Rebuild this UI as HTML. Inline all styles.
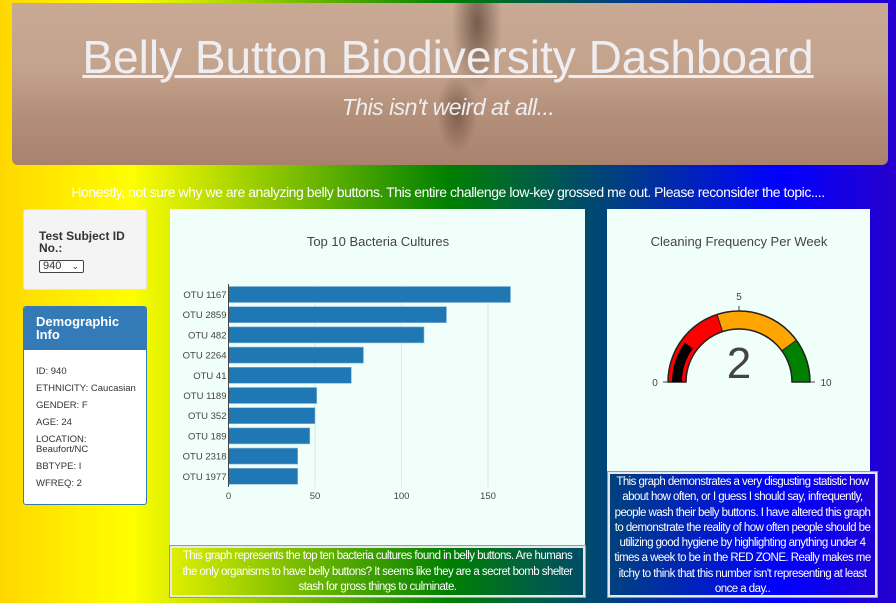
<!DOCTYPE html>
<html><head><meta charset="utf-8">
<style>
*{box-sizing:border-box;margin:0;padding:0}
body{width:896px;height:603px;overflow:hidden;font-family:"Liberation Sans",Arial,sans-serif;
background:linear-gradient(90deg,#ffd700 0%,#ffff00 14.6%,#008000 50%,#0000ff 87%,#2600cc 100%);position:relative}
#banner{position:absolute;left:12px;top:3px;width:876px;height:162px;border-radius:0 0 6px 6px;
background:radial-gradient(ellipse 25px 70px at 465px 20px,rgba(50,30,20,.55),transparent),radial-gradient(ellipse 20px 40px at 445px 110px,rgba(60,35,25,.45),transparent),linear-gradient(180deg,#c8a994 0%,#c4a38c 40%,#b38e78 70%,#a9826e 100%)}
#title{position:absolute;left:0;width:896px;top:30px;text-align:center;font-size:46px;color:#eeeef2;text-decoration:underline;text-decoration-thickness:3px;letter-spacing:0px}
#sub{position:absolute;left:0;width:896px;top:94px;text-align:center;font-size:23px;font-style:italic;color:#eeeef2;letter-spacing:-0.5px}
#intro{position:absolute;left:0;width:896px;top:184px;text-align:center;font-size:14px;color:#fff;letter-spacing:-0.45px}
.panel{position:absolute}
#sel{left:23px;top:209px;width:124px;height:81px;background:#f4f4f4;border:1px solid #e0e0e0;border-radius:3px;padding:20px 0 0 15px;font-size:12px;font-weight:bold;color:#333;line-height:12px}
#selbox{margin-top:6px;font-size:11px;width:45px;height:13px;font-weight:normal;border:1px solid #444;background:#fff;line-height:11px;padding-left:3px;border-radius:2px;position:relative}
#demo{left:23px;top:306px;width:124px;height:199px;background:#fff;border:1px solid #337ab7;border-radius:3px;overflow:hidden}
#demo .hd{background:#337ab7;color:#fff;font-weight:bold;font-size:13px;padding:8px 12px;height:43px;line-height:13px}
#demo .bd{padding:17px 0 0 12px;font-size:9.5px;color:#333;line-height:10px}
#demo .bd div{margin-bottom:7px}
#barp{left:170px;top:209px;width:415px;height:337px;background:#f0fff9}
#gaugep{left:607px;top:209px;width:263px;height:262px;background:#f0fff9}
.cap{position:absolute;border:2px solid #e8e8e8;box-shadow:0 0 0 1px #999;color:#fff;text-align:center;font-size:11.5px;line-height:15.5px;padding:1px 2px;letter-spacing:-0.55px}
</style></head><body>
<div id="banner"></div>
<div id="title">Belly Button Biodiversity Dashboard</div>
<div id="sub">This isn't weird at all...</div>
<div id="intro">Honestly, not sure why we are analyzing belly buttons. This entire challenge low-key grossed me out. Please reconsider the topic....</div>
<div id="sel" class="panel">Test Subject ID<br>No.:<div id="selbox">940<span style="position:absolute;right:4px;top:0;font-size:9px">&#x2304;</span></div></div>
<div id="demo" class="panel">
<div class="hd">Demographic<br>Info</div>
<div class="bd">
<div>ID: 940</div><div>ETHNICITY: Caucasian</div><div>GENDER: F</div><div>AGE: 24</div><div>LOCATION:<br>Beaufort/NC</div><div>BBTYPE: I</div><div>WFREQ: 2</div></div></div>
<div id="barp" class="panel">
<svg id="barsvg" width="415" height="337"></svg></div>
<div id="gaugep" class="panel">
<svg id="gsvg" width="263" height="262"></svg></div>
<div class="cap" style="left:170px;top:546px;width:415px;height:51px;padding:1px 6px">This graph represents the top ten bacteria cultures found in belly buttons. Are humans the only organisms to have belly buttons? It seems like they are a secret bomb shelter stash for gross things to culminate.</div>
<div class="cap" style="left:608px;top:472px;width:269px;height:125px;line-height:15.3px">This graph demonstrates a very disgusting statistic how about how often, or I guess I should say, infrequently, people wash their belly buttons. I have altered this graph to demonstrate the reality of how often people should be utilizing good hygiene by highlighting anything under 4 times a week to be in the RED ZONE. Really makes me itchy to think that this number isn't representing at least once a day..</div>
<script>
const otuLabels=["OTU 1167","OTU 2859","OTU 482","OTU 2264","OTU 41","OTU 1189","OTU 352","OTU 189","OTU 2318","OTU 1977"];
const otuValues=[163,126,113,78,71,51,50,47,40,40];
const xTicks=[0,50,100,150];
const gaugeValue=2;
const gaugeMax=10;
const gaugeBands=[[0,4,"#ff0000"],[4,8,"#ffa500"],[8,10,"#008000"]];
const gaugeTicks=[0,5,10];
const NS="http://www.w3.org/2000/svg";
function mk(p,t,a,txt){const e=document.createElementNS(NS,t);for(const k in a)e.setAttribute(k,a[k]);if(txt!=null)e.textContent=txt;p.appendChild(e);return e;}
(function(){
const s=document.getElementById('barsvg');
const x0=58.5,ppu=1.73,top=76,step=20.2,bh=16;
const X=v=>x0+v*ppu, Y=i=>top+i*step;
const t=mk(s,'text',{x:208,y:37,'text-anchor':'middle','font-size':13,fill:'#444'},'Top 10 Bacteria Cultures');

xTicks.forEach(v=>{
 if(v>0){const g=mk(s,'line',{x1:X(v),x2:X(v),y1:top,y2:top+10*step,stroke:'#dde9e6'});}
 const l=mk(s,'text',{x:X(v),y:top+10*step+12,'text-anchor':'middle','font-size':9.5,fill:'#444'},v);
 
});
otuValues.forEach((v,i)=>{
 const r=mk(s,'rect',{x:X(0),y:Y(i)+1.5,width:X(v)-X(0),height:bh,fill:'#1f77b4',stroke:'#8ab8d8','stroke-width':0.6});
 
 const l=mk(s,'text',{x:X(0)-2,y:Y(i)+13,'text-anchor':'end','font-size':9.5,fill:'#444'},otuLabels[i]);
 
});
const ax=mk(s,'line',{x1:X(0),x2:X(0),y1:top-1,y2:top+10*step,stroke:'#444','stroke-width':1});

})();
(function(){
const s=document.getElementById('gsvg');
const cx=132,cy=173,R=71,r=53;
const ang=v=>Math.PI*(1-v/gaugeMax);
const P=(v,rad)=>[cx+rad*Math.cos(ang(v)),cy-rad*Math.sin(ang(v))];
function arc(a,b,ro,ri){const p1=P(a,ro),p2=P(b,ro),p3=P(b,ri),p4=P(a,ri);
 return `M${p1} A${ro},${ro} 0 0 1 ${p2} L${p3} A${ri},${ri} 0 0 0 ${p4} Z`;}
const t=mk(s,'text',{x:132,y:37,'text-anchor':'middle','font-size':13,fill:'#444'},'Cleaning Frequency Per Week');

gaugeBands.forEach(b=>{const p=mk(s,'path',{d:arc(b[0],b[1],R,r),fill:b[2],stroke:'#222','stroke-width':1});
 });
const o=mk(s,'path',{d:arc(0,gaugeMax,R,r),fill:'none',stroke:'#222','stroke-width':1.5});

const bar=mk(s,'path',{d:arc(0,gaugeValue,R-4,r+4),fill:'#000'});

gaugeTicks.forEach(v=>{const a=P(v,R),b=P(v,R+5),c=P(v,R+12);
 const tk=mk(s,'line',{x1:a[0],y1:a[1],x2:b[0],y2:b[1],stroke:'#444'});
 const l=mk(s,'text',{x:v==0?c[0]-1:v==gaugeMax?c[0]+4:c[0],y:v==5?c[1]+1:c[1]+4,'text-anchor':'middle','font-size':10,fill:'#444'},v);
 });
const n=mk(s,'text',{x:cx,y:cy-4,'text-anchor':'middle','font-size':44,fill:'#444'},gaugeValue);

})();
</script>
</body></html>
